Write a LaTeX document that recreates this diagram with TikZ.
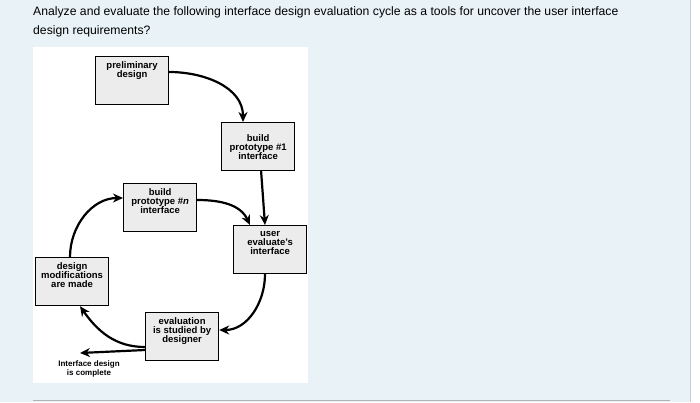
\documentclass[tikz,border=0pt]{standalone}
\usepackage{fontspec}
\setmainfont{Liberation Sans}
\usetikzlibrary{arrows.meta}
\definecolor{bgc}{HTML}{E9F3F7}
\definecolor{boxc}{HTML}{ECECEC}
\begin{document}
\begin{tikzpicture}[x=1pt,y=-1pt,
  bx/.style={draw=black,line width=1.2pt,fill=boxc,minimum width=73pt,minimum height=48pt,align=center,font=\fontsize{9.5}{9}\selectfont\bfseries,inner sep=1pt,anchor=north west,text depth=0pt},
  arr/.style={line width=2.2pt,-{Stealth[length=10pt,width=9pt]}}]
\useasboundingbox (0,0) rectangle (700,402);
\fill[bgc] (0,0) rectangle (700,402);
\fill[white] (690,0) rectangle (700,402);
\draw[gray!40] (690,0) -- (690,402);
\fill[white] (33,47) rectangle (308,383);
\draw[gray!60,line width=0.8pt] (33,400) -- (670,400);
\node[anchor=north west,font=\fontsize{12.2}{19.5}\selectfont,align=left,inner sep=0] (q) at (33,6)
 {Analyze and evaluate the following interface design evaluation cycle as a tools for uncover the user interface\\design requirements?};
\node[bx] (pre) at (95,56) {preliminary\\design\\[14pt]};
\node[bx] (p1) at (221,122) {build\\prototype \#1\\interface};
\node[bx] (pn) at (123,183) {build\\prototype \#\textit{n}\\interface\\[4pt]};
\node[bx] (ue) at (233,225) {user\\evaluate's\\interface\\[4pt]};
\node[bx] (dm) at (35,257) {design\\modifications\\are made\\[4pt]};
\node[bx] (ev) at (145,312) {evaluation\\is studied by\\designer\\[4pt]};
\node[font=\fontsize{8}{8.5}\selectfont\bfseries,align=center] (done) at (89,369) {Interface design\\is complete};
\coordinate (end) at (80,353);
\draw[arr] (pre.east |- 0,72) to[out=0,in=90] (p1.north west -| 243,0);
\draw[arr] (p1.south) ++(3,0) coordinate (a) (a) -- (ue.north west -| 265,0);
\draw[arr] (pn.east |- 0,200) to[out=0,in=115] (ue.north west -| 250,0);
\draw[arr] (ue.south west -| 265,0) to[out=-90,in=0] (ev.east |- 0,330);
\draw[arr] (ev.west |- 0,347) to[out=180,in=-55] (dm.south west -| 80,0);
\draw[arr] (dm.north west -| 70,0) to[out=90,in=180] (pn.west |- 0,198);
\draw[arr] (ev.west |- 0,350) -- (end);
\end{tikzpicture}
\end{document}
